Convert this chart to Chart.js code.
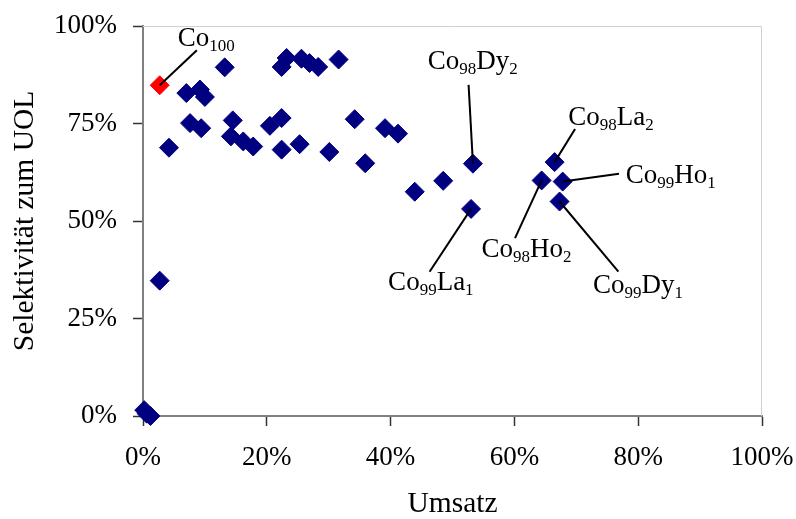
<!DOCTYPE html>
<html lang="de">
<head>
  <meta charset="UTF-8" />
  <title>Selektivität zum UOL</title>
  <style>
    html, body { margin: 0; padding: 0; background: #fff; }
    #wrap { width: 796px; height: 519px; }
  </style>
</head>
<body>
  <div id="wrap"><canvas id="chart" width="796" height="519"></canvas></div>

  <script src="https://cdn.jsdelivr.net/npm/chart.js"></script>
  <script>
    // Umsatz (%) und Selektivität zum UOL (%) der Katalysatoren
    const umsatz = [
      0.2, 0.6, 1.2, 2.7, 4.2, 7.0, 9.2, 10.0, 13.2,
      7.6, 9.4, 14.5, 14.2, 16.2, 17.8, 20.5, 22.4, 22.4, 25.3, 30.1,
      34.2, 35.9, 39.1, 41.2, 43.9, 48.5,
      22.4, 23.2, 25.6, 26.9, 28.3, 31.6,
      53.3, 53.0, 66.5, 64.4, 67.8, 67.3
    ];
    const selektivitaet = [
      1.5, 0.6, 0.0, 34.7, 68.8, 82.8, 83.7, 81.8, 89.4,
      75.1, 73.8, 75.8, 71.7, 70.4, 69.1, 74.4, 76.4, 68.3, 69.7, 67.7,
      76.1, 64.8, 73.8, 72.4, 57.5, 60.3,
      89.5, 91.8, 91.6, 90.5, 89.5, 91.4,
      64.7, 53.1, 65.1, 60.4, 60.1, 55.0
    ];
    const co100Umsatz = [2.7];
    const co100Selektivitaet = [84.8];

    const xTicks = [0, 20, 40, 60, 80, 100];
    const yTicks = [0, 25, 50, 75, 100];

    // Beschriftungen: Datensatz/Index des Punkts, Text in Teilen [text, tiefgestellt],
    // Textanfang und Linienende in Achsenwerten
    const beschriftungen = [
      { ds: 1, idx: 0, text: [['Co', 0], ['100', 1]], textX: 5.6, textY: 94.9, linieX: 8.7, linieY: 93.8 },
      { ds: 0, idx: 32, text: [['Co', 0], ['98', 1], ['Dy', 0], ['2', 1]], textX: 46.0, textY: 88.9, linieX: 52.6, linieY: 84.9 },
      { ds: 0, idx: 34, text: [['Co', 0], ['98', 1], ['La', 0], ['2', 1]], textX: 68.7, textY: 74.7, linieX: 69.8, linieY: 73.6 },
      { ds: 0, idx: 36, text: [['Co', 0], ['99', 1], ['Ho', 0], ['1', 1]], textX: 78.0, textY: 59.8, linieX: 76.9, linieY: 62.1 },
      { ds: 0, idx: 35, text: [['Co', 0], ['98', 1], ['Ho', 0], ['2', 1]], textX: 54.7, textY: 40.8, linieX: 60.1, linieY: 45.6 },
      { ds: 0, idx: 33, text: [['Co', 0], ['99', 1], ['La', 0], ['1', 1]], textX: 39.6, textY: 32.3, linieX: 46.3, linieY: 37.0 },
      { ds: 0, idx: 37, text: [['Co', 0], ['99', 1], ['Dy', 0], ['1', 1]], textX: 72.7, textY: 31.5, linieX: 76.8, linieY: 37.0 }
    ];

    const SCHRIFT = '"Liberation Serif", "Times New Roman", serif';

    // heller Rahmen oben und rechts
    const rahmenPlugin = {
      id: 'rahmen',
      beforeDatasetsDraw(chart) {
        const { ctx, chartArea: a } = chart;
        ctx.save();
        ctx.strokeStyle = '#d0d0d0';
        ctx.lineWidth = 1;
        ctx.beginPath();
        ctx.moveTo(a.left, a.top + 0.5);
        ctx.lineTo(a.right - 0.5, a.top + 0.5);
        ctx.lineTo(a.right - 0.5, a.bottom);
        ctx.stroke();
        ctx.restore();
      }
    };

    const beschriftungPlugin = {
      id: 'beschriftung',
      afterDatasetsDraw(chart) {
        const { ctx, scales: { x, y } } = chart;
        ctx.save();
        ctx.strokeStyle = '#000';
        ctx.lineWidth = 2;
        ctx.fillStyle = '#000';
        ctx.textAlign = 'left';
        ctx.textBaseline = 'alphabetic';
        beschriftungen.forEach(b => {
          const pt = chart.getDatasetMeta(b.ds).data[b.idx];
          ctx.beginPath();
          ctx.moveTo(pt.x, pt.y);
          ctx.lineTo(x.getPixelForValue(b.linieX), y.getPixelForValue(b.linieY));
          ctx.stroke();

          let tx = x.getPixelForValue(b.textX);
          const ty = y.getPixelForValue(b.textY);
          b.text.forEach(([s, sub]) => {
            ctx.font = (sub ? '17px ' : '27px ') + SCHRIFT;
            ctx.fillText(s, tx, ty + (sub ? 5 : 0));
            tx += ctx.measureText(s).width;
          });
        });
        ctx.restore();
      }
    };

    const achse = (werte, titel, titelPadding) => ({
      type: 'linear',
      min: werte[0],
      max: werte[werte.length - 1],
      afterBuildTicks: scale => { scale.ticks = werte.map(v => ({ value: v })); },
      ticks: {
        autoSkip: false,
        maxRotation: 0,
        padding: 16,
        color: '#000',
        font: { family: SCHRIFT, size: 27 },
        callback: v => v + '%'
      },
      grid: {
        drawOnChartArea: false,
        drawTicks: true,
        tickLength: 10,
        tickColor: '#333',
        tickWidth: 1.5
      },
      border: { display: true, color: '#808080', width: 2 },
      title: {
        display: true,
        text: titel,
        color: '#000',
        font: { family: SCHRIFT, size: 29.5, lineHeight: 1 },
        padding: titelPadding
      }
    });

    const xAchse = achse(xTicks, 'Umsatz', { top: 0, bottom: 0 });
    xAchse.afterFit = scale => {
      scale.height = 103;
      scale.paddingLeft = 0;
      scale.paddingRight = 0;
    };
    const yAchse = achse(yTicks, 'Selektivität zum UOL', { top: 10, bottom: 0 });
    yAchse.afterFit = scale => {
      scale.width = 143;
      scale.paddingTop = 0;
      scale.paddingBottom = 0;
    };

    new Chart(document.getElementById('chart').getContext('2d'), {
      type: 'scatter',
      data: {
        datasets: [
          {
            label: 'Co-Katalysatoren',
            data: umsatz.map((u, i) => ({ x: u, y: selektivitaet[i] })),
            backgroundColor: '#000080',
            borderColor: '#000080',
            borderWidth: 1,
            pointStyle: 'rectRot',
            pointRadius: 9.5,
            clip: false
          },
          {
            label: 'Co100',
            data: co100Umsatz.map((u, i) => ({ x: u, y: co100Selektivitaet[i] })),
            backgroundColor: '#ff0000',
            borderColor: '#ff0000',
            borderWidth: 1,
            pointStyle: 'rectRot',
            pointRadius: 9.5,
            clip: false
          }
        ]
      },
      options: {
        responsive: false,
        animation: false,
        devicePixelRatio: 1,
        events: [],
        layout: { padding: { left: 0, top: 26, right: 34, bottom: 0 } },
        plugins: {
          legend: { display: false },
          tooltip: { enabled: false }
        },
        scales: { x: xAchse, y: yAchse }
      },
      plugins: [rahmenPlugin, beschriftungPlugin]
    });
  </script>
</body>
</html>
